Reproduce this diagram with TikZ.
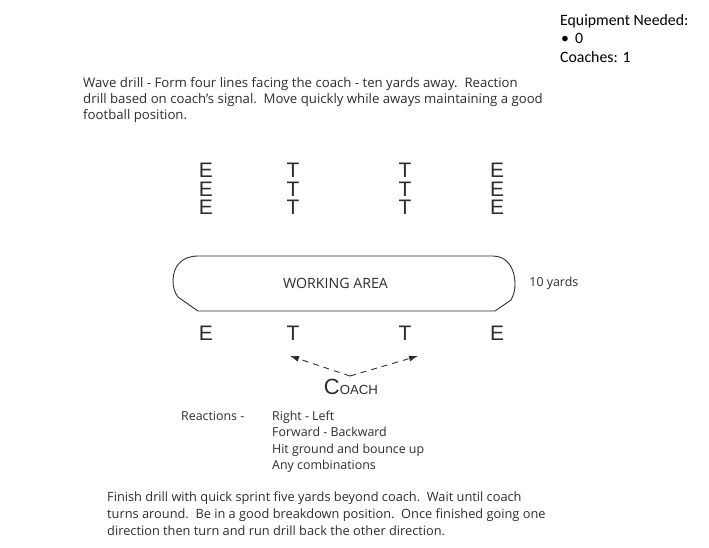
\documentclass[tikz,border=0pt]{standalone}
\usepackage{fontspec}
\setmainfont{Open Sans}
\newfontfamily\wordfont{Carlito}
\newfontfamily\letterfont{Liberation Sans}
\usetikzlibrary{positioning}
\usetikzlibrary{arrows.meta}
\usetikzlibrary{calc}
\definecolor{inkgray}{RGB}{45,45,45}
\tikzset{player/.style={font=\letterfont\fontsize{21}{21}\selectfont,text=inkgray,inner sep=0pt,text height=15.5pt,text depth=0pt},
	note/.style={font=\fontsize{12.4}{16}\selectfont,text=inkgray,align=left,anchor=north west,inner sep=0pt},
	area/.style={inner sep=0pt,minimum width=341pt,minimum height=55pt},
	outline/.style={draw=inkgray,line width=0.9pt},
	signal/.style={draw=inkgray,dash pattern=on 6pt off 5pt,-{Latex[length=9pt,width=6pt]},line width=0.9pt},}

\begin{document}
\begin{tikzpicture}[x=1pt, y=-1pt]
	\useasboundingbox (0,0) rectangle (709,547);
	% equipment box
	\node[note, text=black, font=\wordfont\fontsize{15.8}{18.5}\selectfont] (equip) at (560,14) {Equipment Needed:\\\hspace*{1pt}\textbullet\hspace{6pt}0\\Coaches: 1};
	\node[note, font=\fontsize{13.2}{16}\selectfont] (intro) at (83,77) {Wave drill - Form four lines facing the coach - ten yards away.\ \ Reaction\\drill based on coach's signal.\ \ Move quickly while aways maintaining a good\\football position.};

	% lines facing the coach
	\node[player] (e1) at (206,170) {E};
	\node[player] (e2) [below = 2.5pt of e1] {E};
	\node[player] (e3) [below = 2.5pt of e2] {E};
	\node[player] (t1) at (293,170) {T};
	\node[player] (t2) [below = 2.5pt of t1] {T};
	\node[player] (t3) [below = 2.5pt of t2] {T};
	\node[player] (u1) at (405,170) {T};
	\node[player] (u2) [below = 2.5pt of u1] {T};
	\node[player] (u3) [below = 2.5pt of u2] {T};
	\node[player] (f1) at (497,170) {E};
	\node[player] (f2) [below = 2.5pt of f1] {E};
	\node[player] (f3) [below = 2.5pt of f2] {E};

	\node[area, font=\fontsize{14.2}{15}\selectfont, text=inkgray] (work) at (344.5,283.5) {\hspace*{-18pt}WORKING AREA};
	\draw[outline] (198,256) .. controls (182,256) and (173,266) .. (173,281) .. controls (173,288) and (175,293) .. (178,297) -- (198,311)
		-- (495,311) -- (511,300) .. controls (514,294) and (515,290) .. (515,284) .. controls (515,268) and (507,256) .. (493,256) -- cycle;
	\node[note, anchor=west] (yards) [right = 14pt of work] {10 yards};

	\node[player] (be1) at (206,333) {E};
	\node[player] (bt1) at (293,333) {T};
	\node[player] (bt2) at (405,333) {T};
	\node[player] (be2) at (497,333) {E};

	\node[inner sep=0pt, text=inkgray, font=\letterfont] (coach) at (351,387) {{\fontsize{22}{22}\selectfont C}{\fontsize{13.2}{14}\selectfont OACH}};
	\coordinate (vertex) at (350,376);
	\coordinate (aimL) at ($(bt1.south)+(-3,15)$);
	\coordinate (aimR) at ($(bt2.south)+(13,15)$);
	\draw[signal] (vertex) -- (aimL);
	\draw[signal] (vertex) -- (aimR);

	\node[note] (react) at (181,411) {Reactions -};
	\node[note, font=\fontsize{12.4}{16.3}\selectfont] (moves) at (272,411) {Right - Left\\Forward - Backward\\Hit ground and bounce up\\Any combinations};

	\node[note, font=\fontsize{12.8}{17}\selectfont] (finish) at (107,491) {Finish drill with quick sprint five yards beyond coach.\ \ Wait until coach\\turns around.\ \ Be in a good breakdown position.\ \ Once finished going one\\direction then turn and run drill back the other direction.};
\end{tikzpicture}
\end{document}
